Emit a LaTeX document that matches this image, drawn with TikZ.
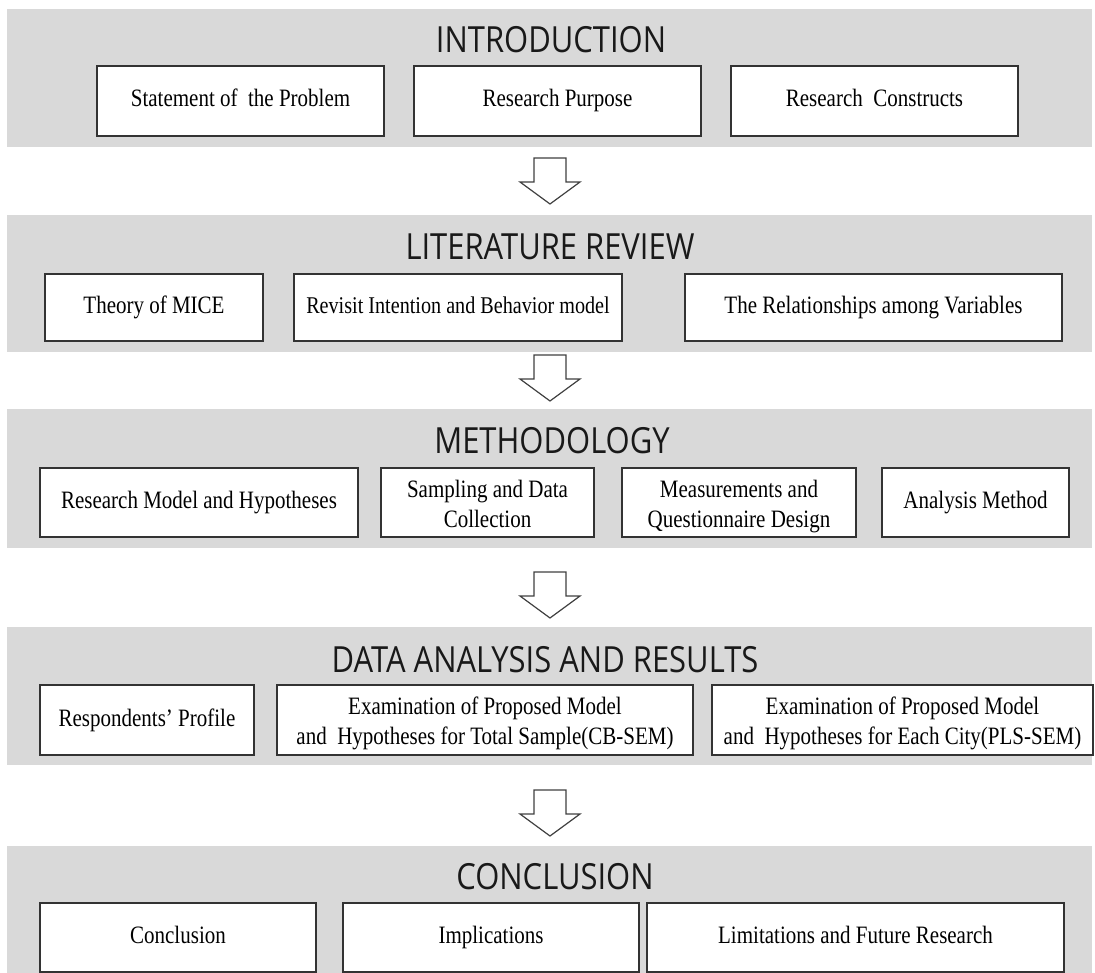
\documentclass[tikz,border=0pt]{standalone}
\usepackage{fontspec}
\setmainfont{Liberation Serif}[FakeStretch=0.84]
\newfontfamily\titlefont{Open Sans}[FakeStretch=0.86]
\definecolor{bandgray}{HTML}{D9D9D9}
\definecolor{boxline}{HTML}{333333}
\newcommand{\firstln}{\rule{0pt}{28pt}}
\tikzset{
  band/.style={fill=bandgray, draw=none, inner sep=0pt, outer sep=0pt},
  ttl/.style={inner sep=0pt, font=\titlefont\fontsize{36}{40}\selectfont, text=black!90},
  itembox/.style={draw=boxline, line width=1.4pt, fill=white, inner sep=0pt, align=center,
    font=\fontsize{25}{30}\selectfont},
  flowarrow/.style={draw=black!75, fill=white, line width=1.2pt, line join=miter}
}
\begin{document}
\begin{tikzpicture}[x=1pt, y=-1pt]
\useasboundingbox (0,0) rectangle (1095,973);
% bands
\node[band, minimum width=1085pt, minimum height=138pt] (band1) at (549.5,78) {};
\node[band, minimum width=1085pt, minimum height=137pt] (band2) at (549.5,283.5) {};
\node[band, minimum width=1085pt, minimum height=139pt] (band3) at (549.5,478.5) {};
\node[band, minimum width=1085pt, minimum height=138pt] (band4) at (549.5,696) {};
\node[band, minimum width=1085pt, minimum height=127pt] (band5) at (549.5,909.5) {};
% titles
\node[ttl] (t1) at (551,40) {INTRODUCTION};
\node[ttl] (t2) at (550,246.5) {LITERATURE REVIEW};
\node[ttl] (t3) at (552,440.5) {METHODOLOGY};
\node[ttl] (t4) at (545,659.5) {DATA ANALYSIS AND RESULTS};
\node[ttl] (t5) at (555,876.5) {CONCLUSION};
% band 1 boxes
\node[itembox, minimum width=287pt, minimum height=70pt] (i1) at (240.5,101) {\strut Statement of\ \ the Problem};
\node[itembox, minimum width=287pt, minimum height=70pt] (i2) at (557.5,101) {\strut Research Purpose};
\node[itembox, minimum width=287pt, minimum height=70pt] (i3) at (874.5,101) {\strut Research\ \ Constructs};
% band 2 boxes
\node[itembox, minimum width=218pt, minimum height=67pt] (l1) at (154,307.5) {\strut Theory of MICE};
\node[itembox, minimum width=328pt, minimum height=67pt, font=\fontsize{24}{30}\selectfont] (l2) at (458,307.5) {\strut Revisit Intention and Behavior model};
\node[itembox, minimum width=377pt, minimum height=67pt] (l3) at (873.5,307.5) {\strut The Relationships among Variables};
% band 3 boxes
\node[itembox, minimum width=318pt, minimum height=69pt] (m1) at (199,502.5) {\strut Research Model and Hypotheses};
\node[itembox, minimum width=213pt, minimum height=69pt] (m2) at (487.5,502.5) {\firstln Sampling and Data\\Collection\strut};
\node[itembox, minimum width=234pt, minimum height=69pt] (m3) at (739,502.5) {\firstln Measurements and\\Questionnaire Design\strut};
\node[itembox, minimum width=187pt, minimum height=69pt] (m4) at (975.5,502.5) {\strut Analysis Method};
% band 4 boxes
\node[itembox, minimum width=214pt, minimum height=70pt] (d1) at (147,720) {\strut Respondents' Profile};
\node[itembox, minimum width=416pt, minimum height=70pt] (d2) at (485,720) {\firstln Examination of Proposed Model\\and\ \ Hypotheses for Total Sample(CB-SEM)\strut};
\node[itembox, minimum width=381pt, minimum height=70pt] (d3) at (902.5,720) {\firstln Examination of Proposed Model\\and\ \ Hypotheses for Each City(PLS-SEM)\strut};
% band 5 boxes
\node[itembox, minimum width=276pt, minimum height=69pt] (c1) at (178,937.5) {\strut Conclusion};
\node[itembox, minimum width=296pt, minimum height=69pt] (c2) at (491,937.5) {\strut Implications};
\node[itembox, minimum width=417pt, minimum height=69pt] (c3) at (855.5,937.5) {\strut Limitations and Future Research};
% arrows between bands (block arrows: shaft 32 wide, head 60 wide)
\coordinate (a1) at (550,158);
\coordinate (a2) at (550,355);
\coordinate (a3) at (550,572);
\coordinate (a4) at (550,790);
\foreach \a in {a1,a2,a3,a4}{
  \draw[flowarrow] (\a) ++(-16,0) -- ++(0,24) -- ++(-14,0) -- ++(30,22) -- ++(30,-22) -- ++(-14,0) -- ++(0,-24) -- cycle;
}
\end{tikzpicture}
\end{document}
